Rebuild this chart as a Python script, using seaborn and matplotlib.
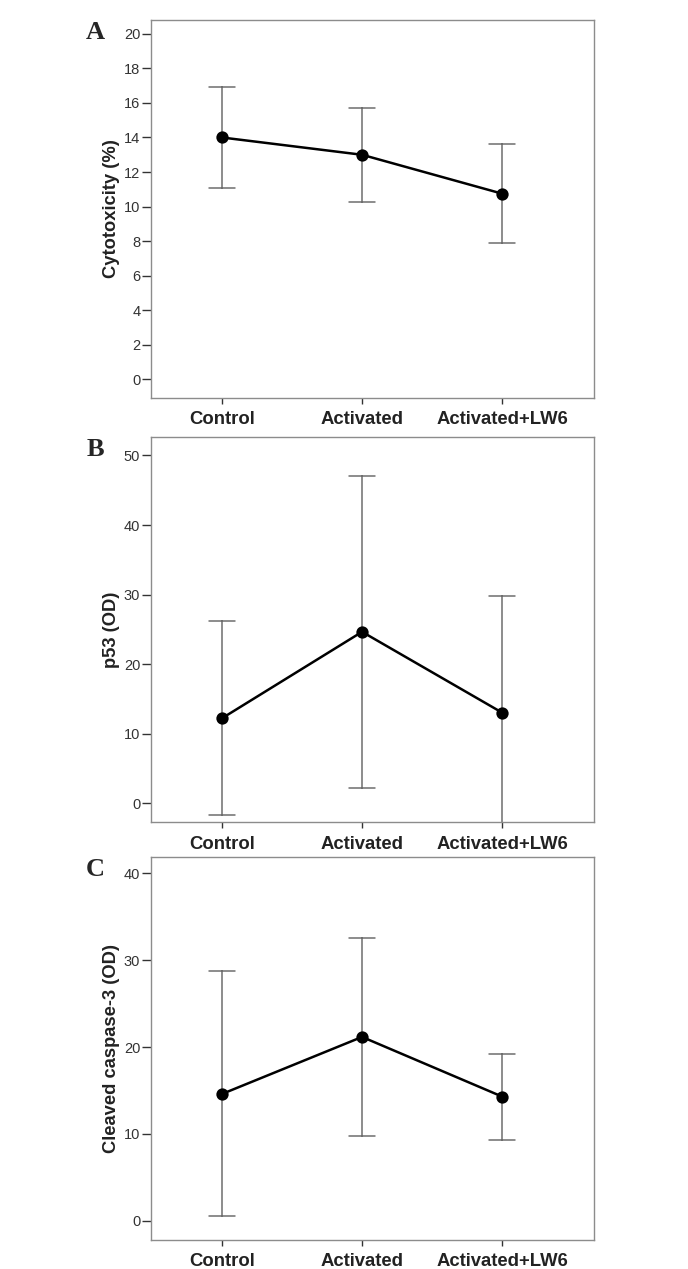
import numpy as np
import pandas as pd
import seaborn as sns
import matplotlib.pyplot as plt

groups = ["Control", "Activated", "Activated+LW6"]

# panel A: cytotoxicity (%), mean with 95% CI
cyto_mean = [14.0, 13.0, 10.75]
cyto_low = [11.07, 10.27, 7.87]
cyto_high = [16.93, 15.73, 13.62]

# panel B: p53 (OD)
p53_mean = [12.23, 24.65, 13.04]
p53_low = [-1.73, 2.25, -3.75]
p53_high = [26.2, 47.1, 29.83]

# panel C: cleaved caspase-3 (OD)
casp_mean = [14.6, 21.16, 14.3]
casp_low = [0.54, 9.76, 9.26]
casp_high = [28.7, 32.6, 19.2]

sns.set_style("white")
plt.rcParams["font.family"] = ["Liberation Sans", "DejaVu Sans"]


def long_table(mean, low, high):
    # three rows per group, median = mean, min/max = CI ends
    rows = []
    for g, m, lo, hi in zip(groups, mean, low, high):
        rows += [(g, lo), (g, m), (g, hi)]
    return pd.DataFrame(rows, columns=["group", "value"])


panels = [
    ("A", "Cytotoxicity (%)", cyto_mean, cyto_low, cyto_high, (-1.08, 20.8), np.arange(0, 21, 2),
     [0.219, 0.6864, 0.645, 0.2978]),
    ("B", "p53 (OD)", p53_mean, p53_low, p53_high, (-2.73, 52.7), np.arange(0, 51, 10),
     [0.219, 0.352, 0.645, 0.3039]),
    ("C", "Cleaved caspase-3 (OD)", casp_mean, casp_low, casp_high, (-2.2, 41.9), np.arange(0, 41, 10),
     [0.219, 0.0229, 0.645, 0.302]),
]

fig = plt.figure(figsize=(6.88, 12.69), dpi=100)

for letter, ylabel, mean, low, high, ylim, yticks, rect in panels:
    ax = fig.add_axes(rect)
    df = long_table(mean, low, high)
    sns.pointplot(data=df, x="group", y="value", order=groups, ax=ax,
                  estimator="median", errorbar=lambda v: (v.min(), v.max()),
                  color="black", marker="o", markersize=7.5, linewidth=1.8,
                  capsize=0.19,
                  err_kws={"color": "#6e6e6e", "linewidth": 1.1, "zorder": 1.5})
    ax.set_xlim(-0.51, 2.66)
    ax.set_ylim(*ylim)
    ax.set_yticks(yticks)
    ax.set_xlabel("")
    ax.set_ylabel(ylabel, fontsize=13.2, fontweight="bold", color="#222222", labelpad=3)
    for s in ax.spines.values():
        s.set_visible(True)
        s.set_color("#8c8c8c")
        s.set_linewidth(1.0)
    ax.tick_params(axis="y", left=True, length=6.5, width=1.0, color="#333333",
                   labelsize=10.5, labelcolor="#333333", pad=1)
    ax.tick_params(axis="x", bottom=True, length=4.5, width=1.0, color="#333333",
                   labelsize=13.3, labelcolor="#222222", pad=5)
    for lab in ax.get_xticklabels():
        lab.set_fontweight("bold")
    fig.text(0.138, rect[1] + rect[3] - 0.001, letter, fontsize=19, fontweight="bold",
             family="Liberation Serif", ha="center", va="top")

fig.savefig("out.png", dpi=100)
